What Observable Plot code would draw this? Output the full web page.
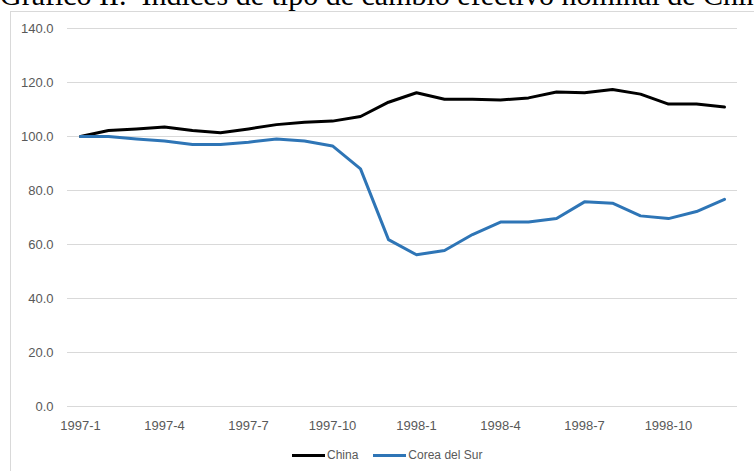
<!DOCTYPE html>
<html>
<head>
<meta charset="utf-8">
<script src="https://cdn.jsdelivr.net/npm/d3@7"></script>
<script src="https://cdn.jsdelivr.net/npm/@observablehq/plot@0.6"></script>
<style>
  html, body { margin: 0; padding: 0; background: #fff; overflow: hidden; }
  #wrap { position: relative; width: 754px; height: 471px; overflow: hidden; }
  #title { position: absolute; left: 0px; top: -20.5px; font-family: "Liberation Serif", "Times New Roman", serif; font-size: 30px; line-height: 1; white-space: pre; color: #000; }
  #frame { position: absolute; left: 10px; top: 11px; width: 800px; height: 520px; border: 1px solid #d9d9d9; box-sizing: border-box; pointer-events: none; }
  #chart { position: absolute; left: 0; top: 0; }
  #legend { position: absolute; left: 292px; top: 447px; height: 16px; display: flex; align-items: center; font-family: "Liberation Sans", Arial, sans-serif; font-size: 12px; color: #595959; white-space: nowrap; }
  #legend .sw { display: inline-block; width: 33px; height: 3px; margin-right: 2px; }
  #legend .item { display: flex; align-items: center; margin-right: 15px; }
</style>
</head>
<body>
<div id="wrap">
  <div id="title">Gráfico II.  Índices de tipo de cambio efectivo nominal de China y Corea del Sur</div>
  <div id="chart"></div>
  <div id="frame"></div>
  <div id="legend"></div>
</div>
<script>
const months = ["1997-1","1997-2","1997-3","1997-4","1997-5","1997-6","1997-7","1997-8","1997-9","1997-10","1997-11","1997-12",
                "1998-1","1998-2","1998-3","1998-4","1998-5","1998-6","1998-7","1998-8","1998-9","1998-10","1998-11","1998-12"];
const china = [100.0, 102.2, 102.8, 103.5, 102.2, 101.4, 102.8, 104.4, 105.3, 105.7, 107.4, 112.7,
               116.2, 113.8, 113.8, 113.5, 114.3, 116.5, 116.2, 117.4, 115.7, 112.0, 112.0, 110.9];
const corea = [100.0, 100.0, 99.1, 98.3, 97.0, 97.0, 97.9, 99.1, 98.3, 96.5, 88.0, 61.8,
               56.2, 57.8, 63.7, 68.3, 68.3, 69.6, 75.8, 75.3, 70.6, 69.6, 72.2, 76.7];
const seriesNames = ["China", "Corea del Sur"];
const seriesColors = ["#000000", "#2E75B6"];
const xTickLabels = ["1997-1","1997-4","1997-7","1997-10","1998-1","1998-4","1998-7","1998-10"];
const yTicks = [0, 20, 40, 60, 80, 100, 120, 140];

const rows = [];
months.forEach((m, i) => {
  rows.push({month: m, value: china[i], serie: seriesNames[0]});
});
months.forEach((m, i) => {
  rows.push({month: m, value: corea[i], serie: seriesNames[1]});
});

const chart = Plot.plot({
  width: 754,
  height: 440,
  marginTop: 28,
  marginBottom: 34,
  marginLeft: 67,
  marginRight: 17,
  style: {background: "transparent", fontFamily: "'Liberation Sans', Arial, sans-serif", overflow: "visible"},
  x: {type: "point", domain: months, range: [80, 724], padding: 0},
  y: {domain: [0, 140]},
  color: {domain: seriesNames, range: seriesColors},
  marks: [
    Plot.ruleY(yTicks, {stroke: "#d9d9d9", strokeWidth: 1, strokeOpacity: 1}),
    Plot.axisY({ticks: yTicks, tickFormat: d => d.toFixed(1), tickSize: 0, tickPadding: 14, fontSize: 13, fill: "#595959", label: null}),
    Plot.axisX({ticks: xTickLabels, tickSize: 0, tickPadding: 14, fontSize: 13, fill: "#595959", label: null}),
    Plot.line(rows, {x: "month", y: "value", z: "serie", stroke: "serie", strokeWidth: 3, strokeLinejoin: "round", strokeLinecap: "round"})
  ]
});
document.getElementById("chart").appendChild(chart);

const legend = document.getElementById("legend");
seriesNames.forEach((name, i) => {
  const item = document.createElement("span");
  item.className = "item";
  const sw = document.createElement("span");
  sw.className = "sw";
  sw.style.background = seriesColors[i];
  item.appendChild(sw);
  item.appendChild(document.createTextNode(name));
  legend.appendChild(item);
});
</script>
</body>
</html>
